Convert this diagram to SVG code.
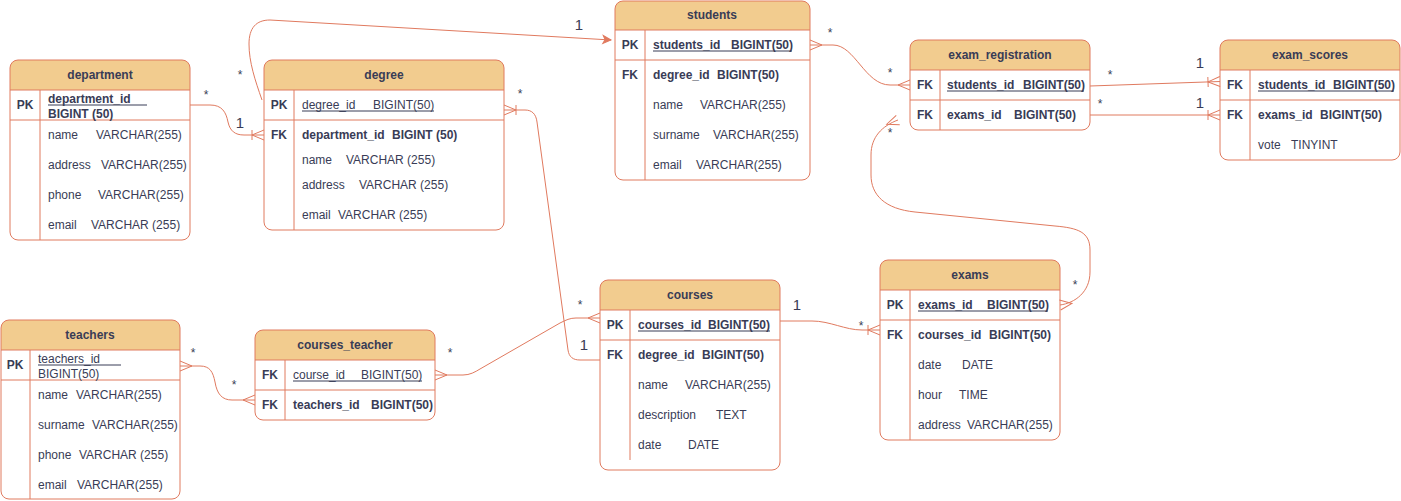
<svg xmlns="http://www.w3.org/2000/svg" width="1401" height="501" viewBox="0 0 1401 501">
<style>
.hdr{fill:#F2CC8F;stroke:none}
.box{fill:none;stroke:#E07A5F;stroke-width:1}
.ln{stroke:#E07A5F;stroke-width:1}
text{font-family:"Liberation Sans",Arial,Helvetica,sans-serif;font-size:12px;fill:#393C56}
.th{font-weight:bold;text-anchor:middle}
.k{font-weight:bold;text-anchor:middle}
.b{font-weight:bold}
.ul{stroke:#393C56;stroke-width:1}
.e{fill:none;stroke:#E07A5F;stroke-width:1}
.st{font-size:12px;text-anchor:middle}
.one{font-size:15px;text-anchor:middle}
</style>
<defs>
<marker id="many" viewBox="-14 -7 16 14" refX="0" refY="0" markerWidth="16" markerHeight="14" markerUnits="userSpaceOnUse" orient="auto-start-reverse"><path d="M0,-5 L-12,0 L0,5" fill="none" stroke="#E07A5F" stroke-width="1"/></marker>
<marker id="one2many" viewBox="-14 -7 16 14" refX="0" refY="0" markerWidth="16" markerHeight="14" markerUnits="userSpaceOnUse" orient="auto-start-reverse"><path d="M0,-5 L-12,0 L0,5 M-12,-5 V5" fill="none" stroke="#E07A5F" stroke-width="1"/></marker>
<marker id="arrow" viewBox="-10 -6 12 12" refX="0" refY="0" markerWidth="12" markerHeight="12" markerUnits="userSpaceOnUse" orient="auto"><path d="M0,0 L-8,-4 L-6,0 L-8,4 Z" fill="#E07A5F" stroke="#E07A5F" stroke-width="1"/></marker>
</defs>
<rect x="0" y="0" width="1401" height="501" fill="#FFFFFF"/>

<g id="connectors">
<path class="e" d="M190,105 L210,105 C222,105 226,112 228,122 C230,131 235,135 244,135 L264,135" marker-end="url(#one2many)"/>
<path class="e" d="M262,100 C255,80 249,62 249,44 C249,28 256,20 270,20 L611,40" marker-end="url(#arrow)"/>
<path class="e" d="M504,110 L525,110 C532,110 536,114 537,122 L568,350 C569,357 573,360 580,360 L600,360" marker-start="url(#one2many)"/>
<path class="e" d="M435,375 L463,375 C470,375 475,372 480,369 L560,323 C566,320 570,318 576,318 L600,318" marker-start="url(#many)" marker-end="url(#many)"/>
<path class="e" d="M180,366 L200,366 C210,366 213,372 215,382 C217,394 222,400 232,400 L255,400" marker-start="url(#many)" marker-end="url(#many)"/>
<path class="e" d="M780,321 L812,321 C830,321 845,330 862,330 L880,330" marker-end="url(#one2many)"/>
<path class="e" d="M1060,305 C1075,303 1090,292 1090,272 L1090,250 C1090,232 1078,228 1055,226 L915,212 C885,209 871,195 871,175 L871,155 C871,137 882,126 898,120" marker-start="url(#many)" marker-end="url(#many)"/>
<path class="e" d="M810,45 L833,45 C855,45 865,85 890,85 L910,85" marker-start="url(#many)" marker-end="url(#many)"/>
<path class="e" d="M1090,86 L1220,81.5" marker-end="url(#one2many)"/>
<path class="e" d="M1090,115 L1220,115" marker-end="url(#one2many)"/>
<text class="st" x="206" y="99">*</text>
<text class="one" x="240" y="128">1</text>
<text class="st" x="240" y="79">*</text>
<text class="one" x="579" y="30">1</text>
<text class="st" x="520" y="98">*</text>
<text class="one" x="584" y="350">1</text>
<text class="st" x="450" y="357">*</text>
<text class="st" x="580" y="309">*</text>
<text class="st" x="193" y="357">*</text>
<text class="st" x="234" y="389">*</text>
<text class="one" x="797" y="310">1</text>
<text class="st" x="861" y="330">*</text>
<text class="st" x="1075" y="289">*</text>
<text class="st" x="890" y="137">*</text>
<text class="st" x="830" y="37">*</text>
<text class="st" x="890" y="77">*</text>
<text class="st" x="1110" y="79">*</text>
<text class="one" x="1200" y="68">1</text>
<text class="st" x="1100" y="108">*</text>
<text class="one" x="1200" y="108">1</text>
</g>

<g id="department">
<path class="hdr" d="M10,90 V68 A8,8 0 0 1 18,60 H182 A8,8 0 0 1 190,68 V90 Z"/>
<rect class="box" x="10" y="60" width="180" height="180" rx="8"/>
<line class="ln" x1="10" y1="90" x2="190" y2="90"/>
<line class="ln" x1="10" y1="120" x2="190" y2="120"/>
<line class="ln" x1="40" y1="90" x2="40" y2="240"/>
<text class="th" x="100" y="79">department</text>
<text class="k" x="25" y="109">PK</text>
<text class="b" x="48" y="103">department_id</text>
<line class="ul" x1="48" y1="105" x2="147" y2="105"/>
<text class="b" x="48" y="118">BIGINT (50)</text>
<text x="48" y="139">name<tspan x="96">VARCHAR(255)</tspan></text>
<text x="48" y="169">address<tspan x="101">VARCHAR(255)</tspan></text>
<text x="48" y="199">phone<tspan x="98">VARCHAR(255)</tspan></text>
<text x="48" y="229">email<tspan x="91">VARCHAR (255)</tspan></text>
</g>

<g id="degree">
<path class="hdr" d="M264,90 V68 A8,8 0 0 1 272,60 H496 A8,8 0 0 1 504,68 V90 Z"/>
<rect class="box" x="264" y="60" width="240" height="170" rx="8"/>
<line class="ln" x1="264" y1="90" x2="504" y2="90"/>
<line class="ln" x1="264" y1="120" x2="504" y2="120"/>
<line class="ln" x1="294" y1="90" x2="294" y2="230"/>
<text class="th" x="384" y="79">degree</text>
<text class="k" x="279" y="109">PK</text>
<text x="302" y="109">degree_id<tspan x="373">BIGINT(50)</tspan></text>
<line class="ul" x1="302" y1="111" x2="434" y2="111"/>
<text class="k" x="279" y="139">FK</text>
<text class="b" x="302" y="139">department_id<tspan x="392">BIGINT (50)</tspan></text>
<text x="302" y="164">name<tspan x="346">VARCHAR (255)</tspan></text>
<text x="302" y="189">address<tspan x="359">VARCHAR (255)</tspan></text>
<text x="302" y="219">email<tspan x="338">VARCHAR (255)</tspan></text>
</g>

<g id="students">
<path class="hdr" d="M615,30 V9 A8,8 0 0 1 623,1 H802 A8,8 0 0 1 810,9 V30 Z"/>
<rect class="box" x="615" y="1" width="195" height="179" rx="8"/>
<line class="ln" x1="615" y1="30" x2="810" y2="30"/>
<line class="ln" x1="615" y1="60" x2="810" y2="60"/>
<line class="ln" x1="645" y1="30" x2="645" y2="180"/>
<text class="th" x="712" y="19">students</text>
<text class="k" x="630" y="49">PK</text>
<text class="b" x="653" y="49">students_id<tspan x="731">BIGINT(50)</tspan></text>
<line class="ul" x1="653" y1="51" x2="792" y2="51"/>
<text class="k" x="630" y="79">FK</text>
<text class="b" x="653" y="79">degree_id<tspan x="717">BIGINT(50)</tspan></text>
<text x="653" y="109">name<tspan x="700">VARCHAR(255)</tspan></text>
<text x="653" y="139">surname<tspan x="713">VARCHAR(255)</tspan></text>
<text x="653" y="169">email<tspan x="696">VARCHAR(255)</tspan></text>
</g>

<g id="exam_registration">
<path class="hdr" d="M910,70 V48 A8,8 0 0 1 918,40 H1082 A8,8 0 0 1 1090,48 V70 Z"/>
<rect class="box" x="910" y="40" width="180" height="90" rx="8"/>
<line class="ln" x1="910" y1="70" x2="1090" y2="70"/>
<line class="ln" x1="910" y1="100" x2="1090" y2="100"/>
<line class="ln" x1="940" y1="70" x2="940" y2="130"/>
<text class="th" x="1000" y="59">exam_registration</text>
<text class="k" x="925" y="89">FK</text>
<text class="b" x="947" y="89">students_id<tspan x="1023">BIGINT(50)</tspan></text>
<line class="ul" x1="947" y1="91" x2="1084" y2="91"/>
<text class="k" x="925" y="119">FK</text>
<text class="b" x="947" y="119">exams_id<tspan x="1014">BIGINT(50)</tspan></text>
</g>

<g id="exam_scores">
<path class="hdr" d="M1220,70 V48 A8,8 0 0 1 1228,40 H1392 A8,8 0 0 1 1400,48 V70 Z"/>
<rect class="box" x="1220" y="40" width="180" height="120" rx="8"/>
<line class="ln" x1="1220" y1="70" x2="1400" y2="70"/>
<line class="ln" x1="1220" y1="100" x2="1400" y2="100"/>
<line class="ln" x1="1250" y1="70" x2="1250" y2="160"/>
<text class="th" x="1310" y="59">exam_scores</text>
<text class="k" x="1235" y="89">FK</text>
<text class="b" x="1258" y="89">students_id<tspan x="1333">BIGINT(50)</tspan></text>
<line class="ul" x1="1258" y1="91" x2="1394" y2="91"/>
<text class="k" x="1235" y="119">FK</text>
<text class="b" x="1258" y="119">exams_id<tspan x="1320">BIGINT(50)</tspan></text>
<text x="1258" y="149">vote<tspan x="1291">TINYINT</tspan></text>
</g>

<g id="teachers">
<path class="hdr" d="M1,350 V328 A8,8 0 0 1 9,320 H172 A8,8 0 0 1 180,328 V350 Z"/>
<rect class="box" x="1" y="320" width="179" height="179" rx="8"/>
<line class="ln" x1="1" y1="350" x2="180" y2="350"/>
<line class="ln" x1="1" y1="380" x2="180" y2="380"/>
<line class="ln" x1="30" y1="350" x2="30" y2="499"/>
<text class="th" x="90" y="339">teachers</text>
<text class="k" x="15" y="369">PK</text>
<text x="38" y="363">teachers_id</text>
<line class="ul" x1="38" y1="365" x2="121" y2="365"/>
<text x="38" y="378">BIGINT(50)</text>
<text x="38" y="399">name<tspan x="76">VARCHAR(255)</tspan></text>
<text x="38" y="429">surname<tspan x="92">VARCHAR(255)</tspan></text>
<text x="38" y="459">phone<tspan x="79">VARCHAR (255)</tspan></text>
<text x="38" y="489">email<tspan x="77">VARCHAR(255)</tspan></text>
</g>

<g id="courses_teacher">
<path class="hdr" d="M255,360 V338 A8,8 0 0 1 263,330 H427 A8,8 0 0 1 435,338 V360 Z"/>
<rect class="box" x="255" y="330" width="180" height="90" rx="8"/>
<line class="ln" x1="255" y1="360" x2="435" y2="360"/>
<line class="ln" x1="255" y1="390" x2="435" y2="390"/>
<line class="ln" x1="285" y1="360" x2="285" y2="420"/>
<text class="th" x="345" y="349">courses_teacher</text>
<text class="k" x="270" y="379">FK</text>
<text x="293" y="379">course_id<tspan x="361">BIGINT(50)</tspan></text>
<line class="ul" x1="293" y1="381" x2="422" y2="381"/>
<text class="k" x="270" y="409">FK</text>
<text class="b" x="293" y="409">teachers_id<tspan x="371">BIGINT(50)</tspan></text>
</g>

<g id="courses">
<path class="hdr" d="M600,310 V288 A8,8 0 0 1 608,280 H772 A8,8 0 0 1 780,288 V310 Z"/>
<rect class="box" x="600" y="280" width="180" height="190" rx="8"/>
<line class="ln" x1="600" y1="310" x2="780" y2="310"/>
<line class="ln" x1="600" y1="340" x2="780" y2="340"/>
<line class="ln" x1="630" y1="310" x2="630" y2="460"/>
<text class="th" x="690" y="299">courses</text>
<text class="k" x="615" y="329">PK</text>
<text class="b" x="638" y="329">courses_id<tspan x="708">BIGINT(50)</tspan></text>
<line class="ul" x1="638" y1="331" x2="770" y2="331"/>
<text class="k" x="615" y="359">FK</text>
<text class="b" x="638" y="359">degree_id<tspan x="702">BIGINT(50)</tspan></text>
<text x="638" y="389">name<tspan x="685">VARCHAR(255)</tspan></text>
<text x="638" y="419">description<tspan x="716">TEXT</tspan></text>
<text x="638" y="449">date<tspan x="688">DATE</tspan></text>
</g>

<g id="exams">
<path class="hdr" d="M880,290 V268 A8,8 0 0 1 888,260 H1052 A8,8 0 0 1 1060,268 V290 Z"/>
<rect class="box" x="880" y="260" width="180" height="180" rx="8"/>
<line class="ln" x1="880" y1="290" x2="1060" y2="290"/>
<line class="ln" x1="880" y1="320" x2="1060" y2="320"/>
<line class="ln" x1="910" y1="290" x2="910" y2="440"/>
<text class="th" x="970" y="279">exams</text>
<text class="k" x="895" y="309">PK</text>
<text class="b" x="918" y="309">exams_id<tspan x="987">BIGINT(50)</tspan></text>
<line class="ul" x1="918" y1="311" x2="1048" y2="311"/>
<text class="k" x="895" y="339">FK</text>
<text class="b" x="918" y="339">courses_id<tspan x="989">BIGINT(50)</tspan></text>
<text x="918" y="369">date<tspan x="962">DATE</tspan></text>
<text x="918" y="399">hour<tspan x="959">TIME</tspan></text>
<text x="918" y="429">address<tspan x="967">VARCHAR(255)</tspan></text>
</g>
</svg>
